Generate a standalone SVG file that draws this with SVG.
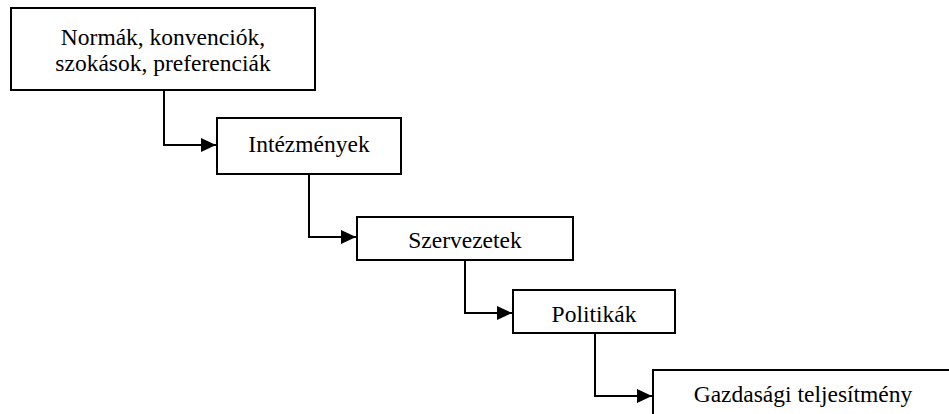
<svg xmlns="http://www.w3.org/2000/svg" width="949" height="414" viewBox="0 0 949 414">
<style>
.box{fill:#fff;stroke:#000;stroke-width:2}
.t{font-family:"Liberation Serif","Times New Roman",serif;font-size:23.5px;fill:#000;text-anchor:middle}
.c{fill:none;stroke:#000;stroke-width:2}
</style>
<defs>
<marker id="ah" markerWidth="15" markerHeight="14" refX="15" refY="7" orient="auto" markerUnits="userSpaceOnUse">
<path d="M0,0 L15,7 L0,14 Z" fill="#000"/>
</marker>
</defs>
<rect width="949" height="414" fill="#fff"/>
<g id="connectors">
<path class="c" d="M164,90 V145 H216" marker-end="url(#ah)"/>
<path class="c" d="M309,174 V237 H356" marker-end="url(#ah)"/>
<path class="c" d="M465,260 V313 H512" marker-end="url(#ah)"/>
<path class="c" d="M595,333 V396 H652" marker-end="url(#ah)"/>
</g>
<g id="n1">
<rect class="box" x="11" y="8" width="304" height="82"/>
<text class="t" x="163" y="45">Normák, konvenciók,</text>
<text class="t" x="163" y="71">szokások, preferenciák</text>
</g>
<g id="n2">
<rect class="box" x="217" y="118" width="184" height="56"/>
<text class="t" x="309" y="152">Intézmények</text>
</g>
<g id="n3">
<rect class="box" x="357" y="217" width="216" height="43"/>
<text class="t" x="465" y="248">Szervezetek</text>
</g>
<g id="n4">
<rect class="box" x="513" y="290" width="162" height="43"/>
<text class="t" x="594" y="322">Politikák</text>
</g>
<g id="n5">
<rect class="box" x="653" y="370" width="300" height="60"/>
<text class="t" x="803" y="402">Gazdasági teljesítmény</text>
</g>
</svg>
